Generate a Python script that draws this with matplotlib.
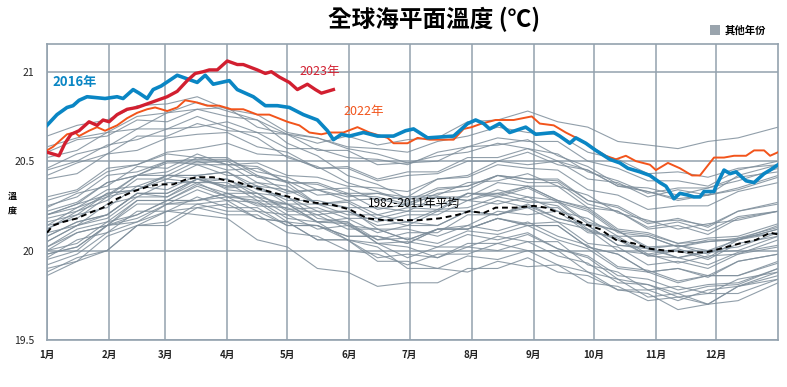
import matplotlib
matplotlib.use("Agg")
import matplotlib.pyplot as plt
from matplotlib.patches import Rectangle

plt.rcParams["font.family"] = ["Noto Sans CJK TC", "DejaVu Sans"]

# month labels (ticks at first day of each month, day-of-year)
month_labels = ["1月", "2月", "3月", "4月", "5月", "6月", "7月", "8月", "9月", "10月", "11月", "12月"]
month_starts = [0, 31, 59, 90, 120, 151, 181, 212, 243, 273, 304, 334]

# 2016
days_2016 = [0, 5, 10, 13, 16, 20, 29, 35, 38, 43, 46, 50, 53, 57, 61, 65, 70, 75, 79, 83, 87, 91, 95,
             103, 109, 115, 121, 128, 135, 140, 143, 147, 151, 158, 165, 173, 179, 183, 190, 203, 210,
             214, 218, 221, 226, 231, 239, 244, 253, 256, 261, 264, 269, 274, 281, 286, 290, 296, 301,
             306, 309, 313, 316, 320, 323, 326, 328, 333, 334, 338, 341, 344, 349, 353, 358, 361, 365]
sst_2016 = [20.70, 20.76, 20.80, 20.81, 20.84, 20.86, 20.85, 20.86, 20.85, 20.90, 20.88, 20.85, 20.90,
            20.92, 20.95, 20.98, 20.96, 20.94, 20.98, 20.93, 20.94, 20.95, 20.90, 20.86, 20.81, 20.81,
            20.80, 20.76, 20.73, 20.67, 20.62, 20.65, 20.64, 20.66, 20.64, 20.64, 20.67, 20.68, 20.63,
            20.64, 20.71, 20.73, 20.71, 20.68, 20.71, 20.66, 20.69, 20.65, 20.66, 20.64, 20.60, 20.63,
            20.60, 20.56, 20.51, 20.49, 20.46, 20.44, 20.42, 20.38, 20.36, 20.29, 20.32, 20.31, 20.30,
            20.30, 20.33, 20.33, 20.36, 20.45, 20.43, 20.44, 20.39, 20.38, 20.43, 20.45, 20.48]

# 2023
days_2023 = [0, 3, 6, 9, 12, 16, 21, 25, 28, 31, 35, 40, 45, 50, 55, 60, 65, 70, 74, 78, 81, 85, 90,
             95, 98, 105, 109, 112, 116, 121, 125, 130, 134, 137, 140, 143]
sst_2023 = [20.55, 20.54, 20.53, 20.60, 20.65, 20.67, 20.72, 20.70, 20.73, 20.72, 20.76, 20.79, 20.80,
            20.82, 20.84, 20.86, 20.89, 20.95, 20.99, 21.00, 21.01, 21.01, 21.06, 21.04, 21.04, 21.01,
            20.99, 21.00, 20.97, 20.94, 20.90, 20.93, 20.90, 20.88, 20.89, 20.90]

# 2022
days_2022 = [0, 3, 6, 10, 14, 16, 21, 25, 29, 35, 40, 45, 50, 54, 60, 65, 69, 74, 80, 86, 92, 98, 105,
             111, 120, 126, 131, 137, 141, 148, 155, 161, 170, 173, 180, 185, 191, 196, 203, 208, 212,
             217, 224, 233, 242, 246, 253, 259, 266, 273, 279, 284, 289, 294, 301, 304, 310, 316, 322,
             326, 333, 338, 343, 346, 349, 353, 358, 361, 365]
sst_2022 = [20.56, 20.58, 20.61, 20.65, 20.66, 20.64, 20.67, 20.69, 20.67, 20.70, 20.74, 20.77, 20.79,
            20.80, 20.78, 20.80, 20.84, 20.83, 20.81, 20.81, 20.79, 20.79, 20.76, 20.76, 20.72, 20.70,
            20.66, 20.65, 20.66, 20.66, 20.69, 20.66, 20.63, 20.60, 20.60, 20.63, 20.62, 20.62, 20.62,
            20.68, 20.69, 20.71, 20.73, 20.73, 20.75, 20.71, 20.70, 20.66, 20.62, 20.57, 20.53, 20.51,
            20.53, 20.50, 20.48, 20.45, 20.49, 20.46, 20.42, 20.42, 20.52, 20.52, 20.53, 20.53, 20.53,
            20.56, 20.56, 20.53, 20.55]

# 1982-2011 mean
days_mean = [0, 3, 8, 15, 21, 28, 35, 43, 51, 56, 63, 70, 76, 83, 90, 96, 101, 111, 121, 131, 141, 151,
             160, 168, 178, 186, 196, 205, 211, 218, 224, 234, 243, 249, 258, 268, 276, 284, 293, 301,
             309, 319, 329, 336, 346, 354, 361, 365]
sst_mean = [20.10, 20.14, 20.16, 20.18, 20.21, 20.24, 20.29, 20.33, 20.36, 20.37, 20.37, 20.40, 20.41,
            20.41, 20.39, 20.38, 20.36, 20.33, 20.30, 20.27, 20.26, 20.23, 20.18, 20.17, 20.17, 20.17,
            20.18, 20.20, 20.22, 20.21, 20.24, 20.24, 20.25, 20.24, 20.20, 20.15, 20.12, 20.06, 20.04,
            20.01, 20.00, 19.99, 19.99, 20.01, 20.04, 20.06, 20.10, 20.09]

# other years (1982-2021), read at half-month steps
days_other = [0, 15, 30, 45, 60, 75, 90, 105, 120, 135, 150, 165, 180, 195, 210, 225, 240, 255, 270,
              285, 300, 315, 330, 345, 365]
other_01 = [20.64, 20.70, 20.73, 20.81, 20.82, 20.86, 20.79, 20.76, 20.66, 20.63, 20.57, 20.54, 20.49, 20.53, 20.55, 20.60, 20.57, 20.54, 20.44, 20.39, 20.32, 20.35, 20.35, 20.41, 20.44]
other_02 = [20.45, 20.50, 20.59, 20.62, 20.68, 20.69, 20.72, 20.66, 20.65, 20.60, 20.64, 20.59, 20.62, 20.63, 20.72, 20.73, 20.78, 20.72, 20.69, 20.61, 20.59, 20.57, 20.61, 20.63, 20.69]
other_03 = [20.55, 20.62, 20.64, 20.73, 20.72, 20.79, 20.75, 20.73, 20.65, 20.63, 20.58, 20.57, 20.55, 20.61, 20.64, 20.69, 20.66, 20.65, 20.55, 20.51, 20.43, 20.44, 20.41, 20.46, 20.48]
other_04 = [20.52, 20.56, 20.66, 20.68, 20.77, 20.79, 20.80, 20.69, 20.65, 20.56, 20.56, 20.48, 20.49, 20.50, 20.58, 20.59, 20.62, 20.53, 20.47, 20.37, 20.33, 20.29, 20.31, 20.34, 20.41]
other_05 = [20.42, 20.49, 20.54, 20.64, 20.64, 20.71, 20.67, 20.66, 20.57, 20.57, 20.52, 20.51, 20.48, 20.55, 20.58, 20.63, 20.61, 20.61, 20.50, 20.46, 20.39, 20.39, 20.36, 20.45, 20.50]
other_06 = [20.40, 20.43, 20.54, 20.56, 20.63, 20.65, 20.66, 20.58, 20.55, 20.46, 20.46, 20.39, 20.42, 20.43, 20.50, 20.50, 20.55, 20.48, 20.45, 20.36, 20.35, 20.31, 20.35, 20.39, 20.46]
other_07 = [20.58, 20.63, 20.66, 20.75, 20.77, 20.83, 20.78, 20.73, 20.60, 20.53, 20.42, 20.37, 20.29, 20.30, 20.28, 20.32, 20.28, 20.25, 20.12, 20.06, 19.97, 19.96, 19.92, 19.99, 20.03]
other_08 = [20.46, 20.54, 20.58, 20.68, 20.68, 20.75, 20.69, 20.63, 20.52, 20.47, 20.38, 20.33, 20.27, 20.30, 20.28, 20.34, 20.30, 20.28, 20.16, 20.11, 20.02, 20.03, 20.00, 20.06, 20.10]
other_09 = [20.28, 20.33, 20.44, 20.48, 20.55, 20.57, 20.60, 20.54, 20.53, 20.46, 20.47, 20.40, 20.44, 20.44, 20.52, 20.52, 20.57, 20.50, 20.45, 20.36, 20.33, 20.28, 20.31, 20.35, 20.42]
other_10 = [20.20, 20.26, 20.31, 20.42, 20.44, 20.52, 20.48, 20.49, 20.42, 20.41, 20.36, 20.35, 20.33, 20.40, 20.41, 20.48, 20.46, 20.45, 20.34, 20.31, 20.23, 20.25, 20.25, 20.33, 20.38]
other_11 = [20.22, 20.27, 20.38, 20.42, 20.50, 20.51, 20.51, 20.44, 20.41, 20.34, 20.35, 20.28, 20.30, 20.31, 20.38, 20.39, 20.43, 20.36, 20.31, 20.21, 20.17, 20.12, 20.15, 20.17, 20.22]
other_12 = [20.24, 20.32, 20.36, 20.47, 20.46, 20.54, 20.48, 20.47, 20.38, 20.37, 20.31, 20.30, 20.26, 20.34, 20.36, 20.42, 20.40, 20.39, 20.28, 20.25, 20.16, 20.17, 20.14, 20.22, 20.27]
other_13 = [20.20, 20.26, 20.38, 20.42, 20.49, 20.49, 20.50, 20.41, 20.39, 20.31, 20.32, 20.23, 20.26, 20.25, 20.32, 20.32, 20.36, 20.28, 20.23, 20.11, 20.09, 20.04, 20.05, 20.07, 20.13]
other_14 = [20.12, 20.22, 20.28, 20.40, 20.40, 20.48, 20.42, 20.42, 20.33, 20.34, 20.28, 20.29, 20.25, 20.32, 20.34, 20.42, 20.40, 20.40, 20.28, 20.24, 20.15, 20.18, 20.13, 20.22, 20.26]
other_15 = [20.25, 20.30, 20.42, 20.44, 20.50, 20.48, 20.48, 20.38, 20.36, 20.26, 20.27, 20.18, 20.22, 20.22, 20.32, 20.30, 20.35, 20.27, 20.22, 20.10, 20.08, 20.02, 20.05, 20.06, 20.12]
other_16 = [20.14, 20.24, 20.30, 20.42, 20.42, 20.50, 20.45, 20.46, 20.38, 20.38, 20.32, 20.32, 20.28, 20.35, 20.36, 20.42, 20.38, 20.38, 20.26, 20.22, 20.13, 20.16, 20.11, 20.19, 20.22]
other_17 = [20.14, 20.18, 20.30, 20.34, 20.42, 20.42, 20.44, 20.36, 20.34, 20.26, 20.28, 20.20, 20.24, 20.23, 20.32, 20.31, 20.36, 20.28, 20.24, 20.12, 20.10, 20.04, 20.07, 20.08, 20.15]
other_18 = [20.05, 20.14, 20.20, 20.32, 20.32, 20.40, 20.35, 20.36, 20.26, 20.26, 20.20, 20.20, 20.16, 20.23, 20.24, 20.30, 20.27, 20.27, 20.15, 20.11, 20.01, 20.03, 19.98, 20.07, 20.10]
other_19 = [20.18, 20.22, 20.32, 20.34, 20.40, 20.38, 20.38, 20.28, 20.26, 20.16, 20.16, 20.06, 20.07, 20.04, 20.11, 20.09, 20.14, 20.06, 20.01, 19.90, 19.88, 19.82, 19.86, 19.86, 19.94]
other_20 = [20.00, 20.10, 20.14, 20.28, 20.28, 20.37, 20.32, 20.32, 20.23, 20.24, 20.18, 20.18, 20.14, 20.22, 20.22, 20.28, 20.24, 20.24, 20.11, 20.07, 19.97, 20.00, 19.95, 20.04, 20.08]
other_21 = [19.92, 19.98, 20.10, 20.16, 20.26, 20.28, 20.32, 20.25, 20.24, 20.16, 20.18, 20.10, 20.14, 20.14, 20.22, 20.20, 20.25, 20.18, 20.14, 20.03, 20.02, 19.96, 19.99, 20.00, 20.08]
other_22 = [20.05, 20.14, 20.18, 20.30, 20.30, 20.40, 20.36, 20.38, 20.32, 20.34, 20.30, 20.32, 20.30, 20.40, 20.42, 20.50, 20.48, 20.50, 20.40, 20.38, 20.30, 20.34, 20.31, 20.42, 20.48]
other_23 = [20.30, 20.34, 20.46, 20.48, 20.54, 20.52, 20.52, 20.42, 20.38, 20.26, 20.24, 20.12, 20.12, 20.08, 20.14, 20.11, 20.16, 20.08, 20.03, 19.91, 19.89, 19.83, 19.86, 19.86, 19.93]
other_24 = [20.08, 20.16, 20.20, 20.32, 20.32, 20.40, 20.36, 20.36, 20.28, 20.28, 20.24, 20.24, 20.22, 20.30, 20.30, 20.38, 20.36, 20.36, 20.24, 20.22, 20.12, 20.14, 20.09, 20.18, 20.22]
other_25 = [20.20, 20.24, 20.34, 20.36, 20.42, 20.40, 20.40, 20.30, 20.26, 20.16, 20.15, 20.04, 20.05, 20.02, 20.09, 20.06, 20.10, 20.01, 19.96, 19.84, 19.81, 19.74, 19.76, 19.76, 19.84]
other_26 = [19.86, 19.94, 20.00, 20.14, 20.16, 20.26, 20.22, 20.22, 20.14, 20.14, 20.08, 20.08, 20.04, 20.12, 20.12, 20.18, 20.14, 20.14, 20.02, 19.98, 19.88, 19.90, 19.85, 19.94, 19.98]
other_27 = [19.90, 19.94, 20.08, 20.14, 20.22, 20.24, 20.26, 20.18, 20.16, 20.06, 20.06, 19.96, 19.98, 19.96, 20.04, 20.04, 20.09, 20.01, 19.97, 19.86, 19.84, 19.78, 19.81, 19.82, 19.90]
other_28 = [20.02, 20.10, 20.14, 20.26, 20.26, 20.34, 20.28, 20.27, 20.16, 20.14, 20.06, 20.04, 19.96, 20.02, 20.02, 20.08, 20.05, 20.05, 19.92, 19.88, 19.78, 19.80, 19.76, 19.84, 19.88]
other_29 = [20.16, 20.20, 20.32, 20.34, 20.42, 20.42, 20.44, 20.34, 20.30, 20.18, 20.16, 20.04, 20.02, 19.96, 20.02, 20.00, 20.05, 19.97, 19.93, 19.82, 19.81, 19.76, 19.80, 19.81, 19.90]
other_30 = [19.96, 20.06, 20.10, 20.22, 20.22, 20.30, 20.24, 20.24, 20.14, 20.14, 20.08, 20.08, 20.04, 20.12, 20.14, 20.22, 20.20, 20.22, 20.10, 20.08, 19.98, 20.01, 19.96, 20.06, 20.12]
other_31 = [19.98, 20.02, 20.14, 20.20, 20.28, 20.28, 20.30, 20.22, 20.20, 20.12, 20.14, 20.06, 20.10, 20.10, 20.20, 20.20, 20.26, 20.18, 20.14, 20.03, 20.01, 19.96, 20.00, 20.02, 20.10]
other_32 = [19.88, 19.96, 20.00, 20.14, 20.14, 20.24, 20.20, 20.20, 20.10, 20.08, 20.00, 19.98, 19.92, 19.98, 19.98, 20.04, 20.00, 20.00, 19.88, 19.84, 19.74, 19.76, 19.70, 19.80, 19.84]
other_33 = [19.95, 20.00, 20.14, 20.18, 20.26, 20.26, 20.28, 20.18, 20.16, 20.06, 20.06, 19.94, 19.94, 19.90, 19.97, 19.95, 20.00, 19.92, 19.88, 19.78, 19.76, 19.67, 19.70, 19.72, 19.82]
other_34 = [20.08, 20.16, 20.20, 20.32, 20.30, 20.38, 20.30, 20.28, 20.18, 20.16, 20.06, 20.02, 19.90, 19.90, 19.88, 19.94, 19.91, 19.92, 19.82, 19.80, 19.72, 19.74, 19.70, 19.80, 19.86]
other_35 = [19.98, 20.02, 20.14, 20.16, 20.22, 20.20, 20.18, 20.06, 20.02, 19.90, 19.88, 19.80, 19.82, 19.82, 19.90, 19.90, 19.96, 19.88, 19.86, 19.78, 19.78, 19.72, 19.78, 19.80, 19.88]
other_36 = [20.02, 20.12, 20.16, 20.28, 20.28, 20.36, 20.30, 20.30, 20.20, 20.20, 20.12, 20.12, 20.06, 20.12, 20.12, 20.18, 20.15, 20.16, 20.04, 20.02, 19.92, 19.94, 19.90, 19.98, 20.02]
other_37 = [20.10, 20.14, 20.26, 20.30, 20.38, 20.38, 20.40, 20.32, 20.30, 20.22, 20.22, 20.14, 20.16, 20.14, 20.22, 20.20, 20.24, 20.16, 20.12, 20.00, 19.98, 19.93, 19.97, 19.98, 20.06]
other_38 = [20.12, 20.20, 20.24, 20.36, 20.34, 20.42, 20.34, 20.32, 20.22, 20.22, 20.14, 20.12, 20.06, 20.12, 20.12, 20.18, 20.14, 20.14, 20.02, 19.98, 19.88, 19.90, 19.86, 19.94, 19.98]
other_39 = [20.00, 20.04, 20.16, 20.20, 20.28, 20.28, 20.32, 20.26, 20.26, 20.20, 20.22, 20.16, 20.20, 20.20, 20.28, 20.26, 20.30, 20.22, 20.18, 20.08, 20.08, 20.02, 20.06, 20.06, 20.14]

other_years = [other_01, other_02, other_03, other_04, other_05, other_06, other_07, other_08, other_09,
               other_10, other_11, other_12, other_13, other_14, other_15, other_16, other_17, other_18,
               other_19, other_20, other_21, other_22, other_23, other_24, other_25, other_26, other_27,
               other_28, other_29, other_30, other_31, other_32, other_33, other_34, other_35, other_36,
               other_37, other_38, other_39]

grid_color = "#93a2ae"
gray_line = "#7e8e9b"
blue = "#0a86c4"
red = "#d21f30"
orange = "#f2541b"

fig = plt.figure(figsize=(7.87, 3.87), dpi=100)
ax = fig.add_axes([0.0597, 0.1214, 0.929, 0.765])

for vals in other_years:
    ax.plot(days_other, vals, color=gray_line, lw=0.8, alpha=0.85, zorder=2)

ax.plot(days_mean, sst_mean, color="black", lw=1.4, ls=(0, (3, 2)), zorder=3)
ax.plot(days_2022, sst_2022, color=orange, lw=1.4, zorder=4)
ax.plot(days_2016, sst_2016, color=blue, lw=2.6, zorder=5)
ax.plot(days_2023, sst_2023, color=red, lw=2.4, zorder=6)

ax.set_xlim(0, 365)
ax.set_ylim(19.5, 21.155)
ax.set_xticks(month_starts)
ax.set_xticklabels(month_labels, fontsize=7, color="#222222", fontweight="bold")
ax.set_yticks([19.5, 20, 20.5, 21])
ax.set_yticklabels(["19.5", "20", "20.5", "21"], fontsize=7.5, color="#222222", fontweight="medium")
ax.tick_params(length=0, pad=9)
ax.tick_params(axis="x", pad=7)
ax.grid(True, color=grid_color, lw=1.1)
ax.set_axisbelow(True)
for sp in ax.spines.values():
    sp.set_color(grid_color)
    sp.set_linewidth(1.2)

ax.text(2.5, 20.94, "2016年", color=blue, fontsize=9.5, va="center", ha="left", fontweight="bold")
ax.text(126, 21.0, "2023年", color=red, fontsize=9, va="center", ha="left")
ax.text(148, 20.775, "2022年", color=orange, fontsize=9, va="center", ha="left")
ax.text(160, 20.265, "1982-2011年平均", color="black", fontsize=8.5, va="center", ha="left",
        fontweight="medium")

fig.text(12 / 787, 1 - 196 / 387, "溫", fontsize=6.5, ha="center", va="center", fontweight="bold")
fig.text(12 / 787, 1 - 212 / 387, "度", fontsize=6.5, ha="center", va="center", fontweight="bold")

fig.text(434 / 787, 1 - 19 / 387, "全球海平面溫度 (℃)", fontsize=17, fontweight="bold",
         ha="center", va="center")

fig.patches.append(Rectangle((710 / 787, 1 - 35 / 387), 10 / 787, 10 / 387, transform=fig.transFigure,
                             facecolor="#9aa4ad", edgecolor="none"))
fig.text(725 / 787, 1 - 30.5 / 387, "其他年份", fontsize=7.5, fontweight="bold", ha="left", va="center")

fig.savefig("out.png", dpi=100)
